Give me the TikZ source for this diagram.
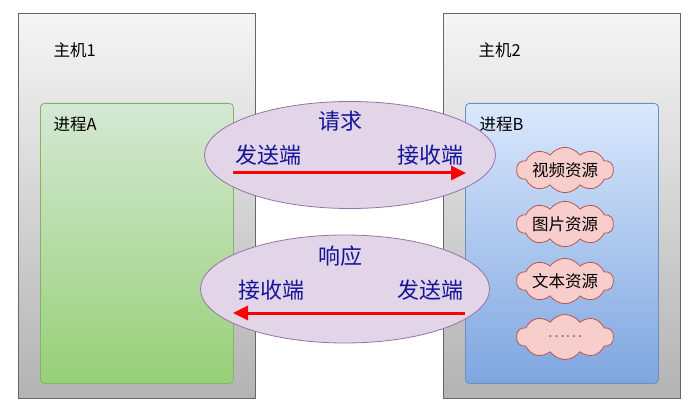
\documentclass[tikz,border=0pt]{standalone}
\usepackage{fontspec}
\setmainfont{Noto Sans CJK SC}
\usetikzlibrary{arrows.meta,shapes.symbols,shapes.geometric}

\definecolor{hostline}{HTML}{666666}
\definecolor{hosttop}{HTML}{F5F5F5}
\definecolor{hostbot}{HTML}{B3B3B3}
\definecolor{aline}{HTML}{82B366}
\definecolor{atop}{HTML}{D5E8D4}
\definecolor{abot}{HTML}{97D077}
\definecolor{bline}{HTML}{6C8EBF}
\definecolor{btop}{HTML}{DAE8FC}
\definecolor{bbot}{HTML}{7EA6E0}
\definecolor{msgfill}{HTML}{E1D5E7}
\definecolor{msgline}{HTML}{9673A6}
\definecolor{msgtext}{HTML}{14149A}
\definecolor{resfill}{HTML}{F8CECC}
\definecolor{resline}{HTML}{B85450}

\begin{document}
\begin{tikzpicture}[x=1pt,y=-1pt,
    host/.style={draw=hostline,line width=0.8pt,top color=hosttop,bottom color=hostbot,
        anchor=north west,minimum width=237pt,minimum height=385pt,inner sep=0pt},
    proc/.style={line width=0.8pt,rounded corners=4pt,anchor=north west,
        minimum width=193pt,minimum height=280pt,inner sep=0pt},
    msg/.style={ellipse,draw=msgline,fill=msgfill,line width=0.8pt,inner sep=0pt},
    msgtxt/.style={text=msgtext,font=\fontsize{22}{24}\selectfont},
    lbl/.style={anchor=west,font=\fontsize{16.5}{18}\selectfont},
    res/.style={cloud,cloud puffs=10,cloud puff arc=110,aspect=2.2,draw=resline,fill=resfill,
        line width=0.8pt,minimum width=97pt,minimum height=45pt,inner xsep=-6pt,inner ysep=-2pt,
        font=\fontsize{16.5}{18}\selectfont},
    flow/.style={draw=red,line width=3pt,-{Triangle[length=15pt,width=14pt]}}]

    \useasboundingbox (0,0) rectangle (698,419);

    % hosts and processes
    \node[host] (host1) at (18,13) {};
    \node[host] (host2) at (443,13) {};
    \node[lbl] (host1lbl) at (50,50) {主机1};
    \node[lbl] (host2lbl) at (475,50) {主机2};
    \node[proc,draw=aline,top color=atop,bottom color=abot] (procA) at (40,103) {};
    \node[proc,draw=bline,top color=btop,bottom color=bbot] (procB) at (465,103) {};
    \node[lbl] (procAlbl) at (50,124) {进程A};
    \node[lbl] (procBlbl) at (476,124) {进程B};

    % request
    \node[msg,minimum width=291pt,minimum height=107pt] (req) at (350,155) {};
    \node[msgtxt] (reqlbl) at (340,121) {请求};
    \node[msgtxt] (reqsend) at (268,155) {发送端};
    \node[msgtxt] (reqrecv) at (430,155) {接收端};
    \coordinate (reqfrom) at (233,173);
    \coordinate (reqto) at (466,173);
    \draw[flow] (reqfrom) -- (reqto);

    % response
    \node[msg,minimum width=289pt,minimum height=108pt] (resp) at (345,289) {};
    \node[msgtxt] (resplbl) at (340,256) {响应};
    \node[msgtxt] (resprecv) at (271,290) {接收端};
    \node[msgtxt] (respsend) at (430,290) {发送端};
    \coordinate (respfrom) at (465,313);
    \coordinate (respto) at (233,313);
    \draw[flow] (respfrom) -- (respto);

    % resources in process B
    \node[res] (video) at (565,170) {视频资源};
    \node[res] (image) at (565,224) {图片资源};
    \node[res] (text) at (565,281) {文本资源};
    \node[res,text=gray] (more) at (565,337) {……};

\end{tikzpicture}
\end{document}
